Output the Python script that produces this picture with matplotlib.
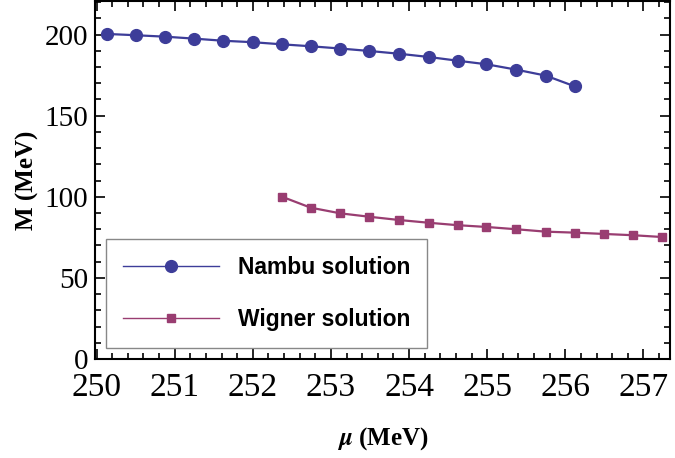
import matplotlib
matplotlib.use("Agg")
import matplotlib.pyplot as plt
from matplotlib.ticker import MultipleLocator

# Data
nambu_mu = [250.13, 250.50, 250.88, 251.25, 251.62, 252.00, 252.37, 252.74, 253.12,
            253.49, 253.87, 254.25, 254.62, 254.99, 255.37, 255.75, 256.12]
nambu_M = [200.4, 199.6, 198.7, 197.5, 196.2, 195.3, 194.0, 192.8, 191.4,
           189.9, 188.2, 186.2, 183.9, 181.7, 178.4, 174.7, 168.1]
wigner_mu = [252.37, 252.74, 253.12, 253.49, 253.87, 254.25, 254.62, 254.99,
             255.37, 255.75, 256.12, 256.49, 256.87, 257.24]
wigner_M = [100.1, 93.3, 89.8, 87.7, 85.7, 84.0, 82.5, 81.4, 80.0, 78.5, 77.9,
            77.1, 76.3, 75.2]
series_labels = ["Nambu solution", "Wigner solution"]
x_ticks = [250, 251, 252, 253, 254, 255, 256, 257]
y_ticks = [0, 50, 100, 150, 200]

plt.rcParams['mathtext.fontset'] = 'stix'

fig = plt.figure(figsize=(6.75, 4.58), dpi=100)
ax = fig.add_axes([95/675, 1 - 359/458, (670-95)/675, (359-1)/458])

c1 = '#3d3d99'
c2 = '#993d71'
ax.plot(nambu_mu, nambu_M, '-o', color=c1, lw=1.6, ms=8.5, label=series_labels[0])
ax.plot(wigner_mu, wigner_M, '-s', color=c2, lw=1.6, ms=5.5, label=series_labels[1])

ax.set_xlim(249.98, 257.34)
ax.set_ylim(0, 220.7)
ax.set_xticks(x_ticks)
ax.set_yticks(y_ticks)
ax.xaxis.set_minor_locator(MultipleLocator(0.2))
ax.yaxis.set_minor_locator(MultipleLocator(10))
ax.tick_params(which='both', direction='in', top=True, right=True, width=1.2)
ax.tick_params(which='major', length=7)
ax.tick_params(which='minor', length=4)
ax.tick_params(axis='x', labelsize=24, pad=10)
ax.tick_params(axis='y', labelsize=21, pad=5)
for lab in ax.get_xticklabels() + ax.get_yticklabels():
    lab.set_family('Liberation Serif')
for s in ax.spines.values():
    s.set_linewidth(1.5)

ax.set_xlabel(r"$\mathbfit{\mu}$ (MeV)", fontsize=18, fontweight='bold',
              family='Liberation Serif', labelpad=16)
ax.set_ylabel("M (MeV)", fontsize=18, fontweight='bold', family='Liberation Serif',
              labelpad=4)

leg = ax.legend(loc='lower left', bbox_to_anchor=((106-95)/575, (359-348)/358),
                borderaxespad=0, prop={'family': 'Liberation Sans', 'weight': 'bold', 'size': 16.5},
                fancybox=False, edgecolor='#888888', framealpha=1, handlelength=4.2,
                labelspacing=1.25, borderpad=0.75, handletextpad=0.8)
leg.get_frame().set_linewidth(1.0)
for h in leg.legend_handles:
    h.set_linewidth(1.0)

fig.savefig("out.png", dpi=100)
